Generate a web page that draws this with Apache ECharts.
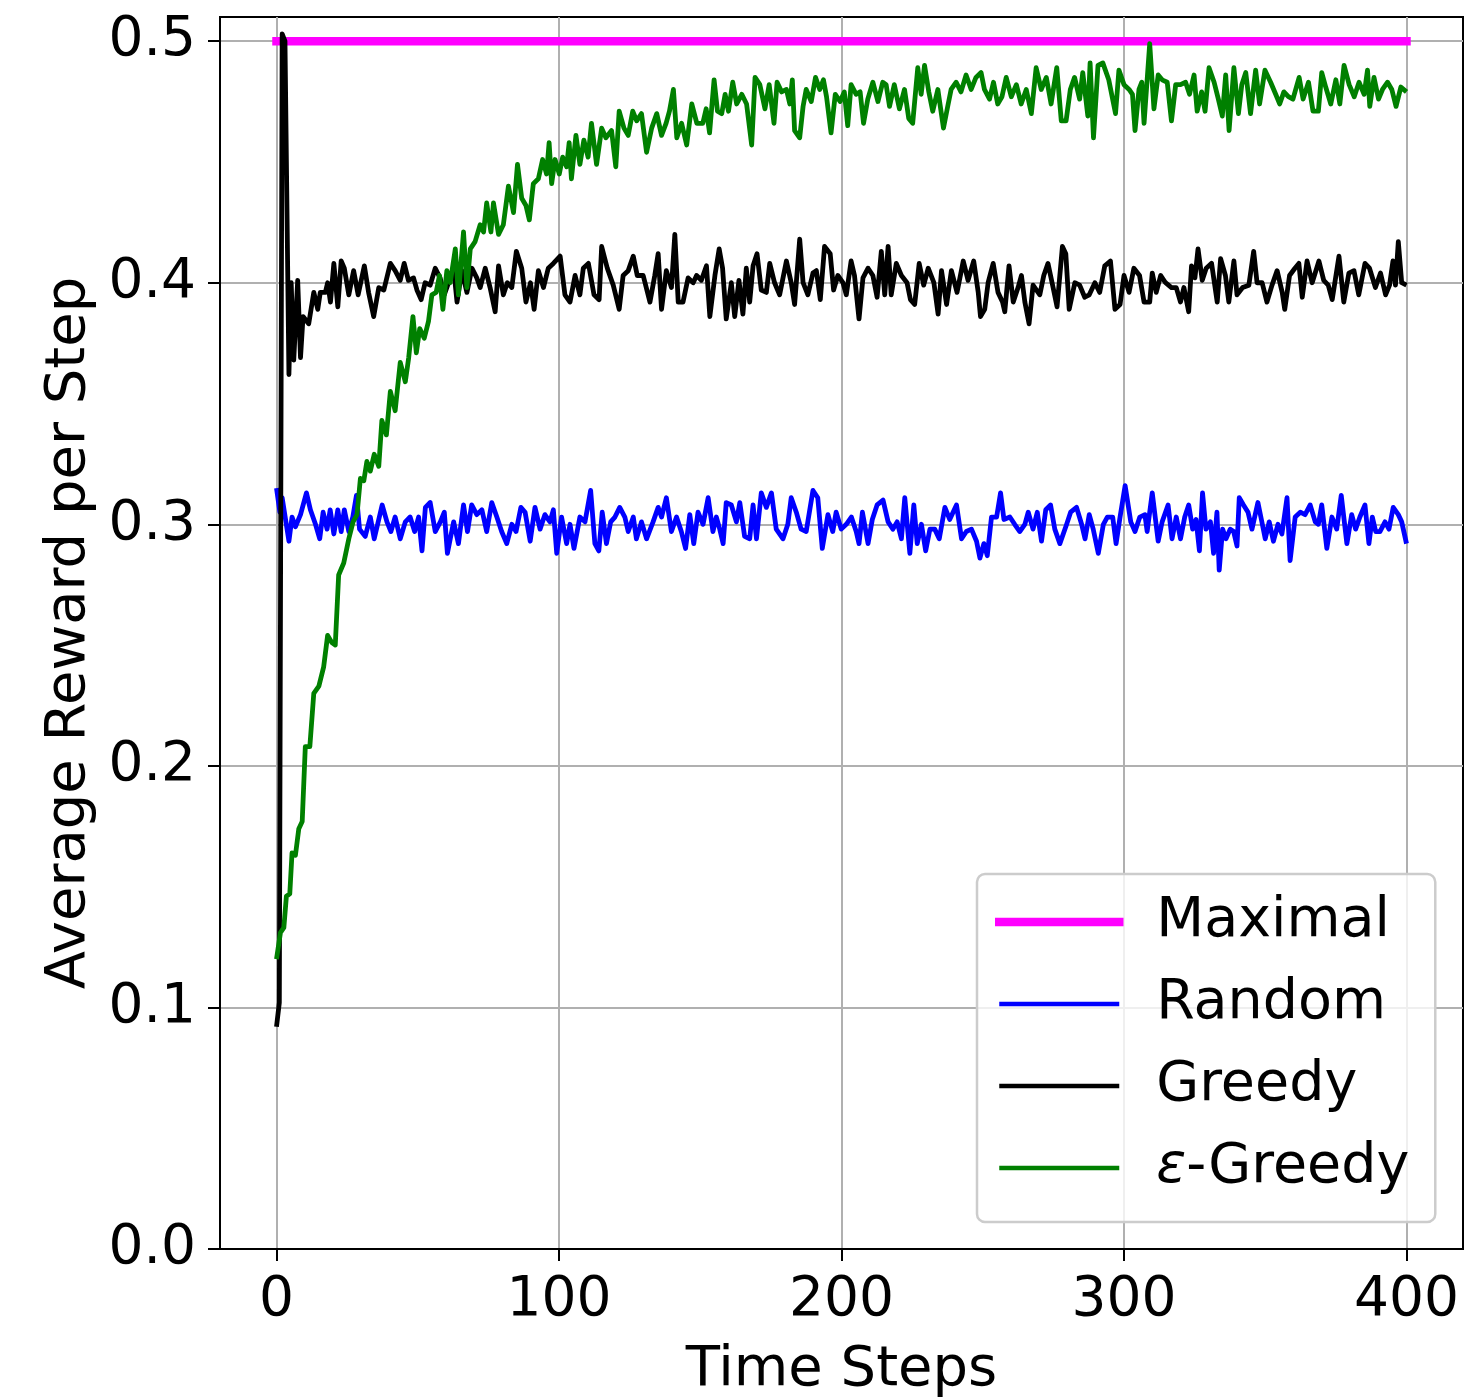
<!DOCTYPE html>
<html>
<head>
<meta charset="utf-8">
<script src="https://cdn.jsdelivr.net/npm/echarts@6/dist/echarts.min.js"></script>
<style>
html, body { margin:0; padding:0; background:#fff; }
#chart { width:1471px; height:1398px; }
</style>
</head>
<body>
<div id="chart"></div>
<script>
// tick positions
const xTicks = [0, 100, 200, 300, 400];
const yTicks = [0, 0.1, 0.2, 0.3, 0.4, 0.5];

// [time step, average reward]
const maximalReward = [[0, 0.5], [400, 0.5]];

const randomReward = [[0,0.315],[1.2,0.305],[2,0.311],[4.4,0.293],[5.5,0.303],[6.7,0.299],[8.5,0.304],[10.6,0.313],[12,0.306],[13.8,0.300],[15.3,0.294],[16.5,0.305],[17.9,0.298],[19,0.306],[20.3,0.296],[21.7,0.306],[22.9,0.297],[24,0.306],[25.6,0.297],[27,0.303],[28.3,0.312],[29.4,0.298],[31.4,0.295],[33.2,0.303],[34.6,0.294],[37.4,0.308],[39.1,0.301],[40.5,0.297],[42,0.303],[43.8,0.294],[45.6,0.301],[47.3,0.303],[48.9,0.297],[50.3,0.303],[51.5,0.289],[52.7,0.307],[54.4,0.309],[56.2,0.297],[58,0.301],[59.4,0.305],[60.5,0.288],[62.7,0.301],[64.4,0.292],[66.2,0.308],[67.6,0.297],[69.1,0.308],[70.9,0.304],[72.7,0.306],[74.4,0.297],[76.2,0.309],[78,0.303],[79.7,0.297],[81.5,0.292],[83.3,0.300],[84.8,0.297],[86.5,0.307],[88,0.305],[89.8,0.293],[91.5,0.307],[93.3,0.298],[95,0.304],[96.8,0.301],[98,0.306],[99.2,0.288],[100.9,0.303],[102.7,0.292],[103.9,0.300],[105.3,0.290],[107.4,0.303],[109.2,0.301],[111.2,0.314],[112.7,0.292],[114.1,0.289],[115.3,0.305],[116.8,0.292],[118.3,0.301],[119.8,0.303],[121.5,0.307],[123.3,0.303],[124.5,0.297],[126.3,0.303],[127.4,0.294],[129.2,0.301],[131,0.294],[133.3,0.301],[135.1,0.307],[136.3,0.303],[138,0.311],[139.8,0.297],[141.6,0.303],[143.3,0.297],[144.8,0.290],[146.3,0.304],[147.7,0.292],[149.2,0.305],[151,0.300],[152.8,0.311],[154.5,0.297],[155.7,0.303],[156.9,0.298],[158.1,0.292],[159.2,0.309],[161,0.308],[162.8,0.301],[164,0.309],[165.7,0.295],[167.5,0.294],[168.7,0.308],[169.9,0.294],[171.6,0.313],[173.4,0.307],[175.2,0.313],[176.9,0.298],[179.3,0.294],[181,0.300],[182.2,0.311],[184,0.305],[185.7,0.298],[187.5,0.297],[189.9,0.314],[191.6,0.311],[193.2,0.290],[195.2,0.304],[196.9,0.297],[198.1,0.305],[199.9,0.298],[201.7,0.300],[203.5,0.303],[205.2,0.297],[206.2,0.292],[207.4,0.305],[209.4,0.292],[210.9,0.302],[212.6,0.308],[214.7,0.310],[216.5,0.301],[218.2,0.298],[219.7,0.301],[221.2,0.294],[222.4,0.311],[224.2,0.288],[225.6,0.308],[226.8,0.292],[228.3,0.300],[229.8,0.289],[231.3,0.298],[233,0.298],[234.6,0.294],[236.6,0.307],[238.3,0.302],[240.7,0.308],[242.5,0.294],[244.2,0.297],[246,0.298],[247.8,0.293],[249,0.286],[250.4,0.292],[251.6,0.287],[253.1,0.303],[254.9,0.303],[256.3,0.313],[257.5,0.302],[259.6,0.303],[261.3,0.300],[263.1,0.297],[264.9,0.300],[266.1,0.305],[267.8,0.298],[269.3,0.305],[270.8,0.293],[272.3,0.306],[274,0.308],[275.5,0.298],[277.3,0.292],[279.7,0.300],[281.1,0.305],[283.2,0.307],[285,0.300],[286.2,0.294],[287.7,0.304],[289.1,0.298],[290.9,0.288],[292.7,0.300],[294.1,0.303],[296,0.303],[297.2,0.292],[298.6,0.303],[300.4,0.316],[302.4,0.301],[303.9,0.297],[305.6,0.303],[307.4,0.304],[308.2,0.297],[310,0.313],[312.1,0.293],[313.5,0.301],[315.6,0.308],[317,0.294],[318.5,0.303],[320,0.294],[321.5,0.303],[322.9,0.308],[324.3,0.298],[325.5,0.302],[326.7,0.289],[327.8,0.313],[329,0.298],[330.6,0.301],[331.7,0.288],[332.9,0.305],[333.7,0.281],[334.9,0.298],[336.1,0.294],[337.6,0.298],[338.8,0.297],[340,0.291],[340.8,0.311],[342.3,0.308],[343.9,0.305],[345.3,0.298],[347.4,0.309],[348.8,0.301],[350,0.294],[351.4,0.301],[352.9,0.293],[354.5,0.300],[355.9,0.296],[357.7,0.311],[358.8,0.285],[360.6,0.303],[362.4,0.305],[364.1,0.304],[365.9,0.308],[367.7,0.301],[368.8,0.300],[370,0.308],[371.8,0.290],[373.6,0.303],[375.3,0.298],[376.9,0.312],[378.9,0.292],[380.6,0.304],[382,0.298],[383.5,0.303],[385.3,0.308],[386.7,0.292],[387.9,0.303],[389.1,0.297],[390.6,0.297],[392.4,0.301],[393.8,0.298],[395.3,0.307],[397.1,0.304],[398.3,0.301],[400,0.292]];

const greedyReward = [[0,0.092],[1,0.102],[2,0.503],[3,0.500],[4.4,0.362],[5.2,0.400],[6.1,0.368],[7.5,0.401],[8.5,0.369],[9.4,0.386],[11.4,0.383],[13.2,0.396],[14.6,0.389],[15.5,0.396],[17.3,0.396],[18.1,0.400],[19.1,0.392],[20.3,0.408],[21.7,0.390],[22.9,0.409],[24,0.406],[25.6,0.395],[27.3,0.405],[28.9,0.395],[31.1,0.407],[32.6,0.396],[34.4,0.386],[36.2,0.398],[38,0.397],[40.3,0.408],[42,0.405],[43.8,0.401],[45.2,0.408],[46.7,0.401],[48.5,0.402],[49.7,0.397],[51.2,0.393],[52.6,0.400],[54.4,0.399],[56.2,0.406],[57.9,0.402],[59.4,0.395],[60.9,0.400],[62.7,0.406],[63.9,0.392],[65.6,0.405],[67.4,0.396],[69.2,0.406],[70.9,0.402],[72.1,0.398],[73.9,0.406],[75.6,0.398],[77.4,0.388],[78.6,0.407],[80.3,0.395],[81.7,0.400],[83.3,0.398],[84.9,0.413],[86.8,0.406],[88.3,0.392],[89.9,0.400],[91.2,0.389],[92.7,0.405],[94.5,0.398],[96.2,0.406],[98,0.408],[100.4,0.411],[102.1,0.395],[103.9,0.392],[105.7,0.403],[107.4,0.395],[108.6,0.406],[110.4,0.408],[112.4,0.395],[114.2,0.393],[115.1,0.415],[117.1,0.406],[119.2,0.399],[121.3,0.389],[122.7,0.403],[124.5,0.405],[126.3,0.411],[127.7,0.403],[129.8,0.403],[132.2,0.392],[133.9,0.403],[135.1,0.412],[136.3,0.389],[138,0.405],[139.8,0.398],[141,0.420],[142.2,0.392],[143.9,0.392],[145.7,0.402],[147.5,0.400],[148.7,0.403],[150.4,0.401],[152.2,0.407],[153.4,0.386],[155.2,0.403],[156.7,0.414],[157.9,0.406],[159.2,0.385],[161,0.400],[162.2,0.386],[163.7,0.401],[165.1,0.387],[166.3,0.406],[167.5,0.392],[168.7,0.407],[170.1,0.412],[171.6,0.397],[173.4,0.396],[174.6,0.408],[176.3,0.400],[178.1,0.395],[180.5,0.409],[182.2,0.400],[183.4,0.391],[185.2,0.418],[186.4,0.400],[188.1,0.395],[189.9,0.404],[191.1,0.405],[192.5,0.393],[194,0.415],[196,0.412],[197.2,0.397],[198.7,0.403],[200.5,0.400],[201.7,0.395],[203.4,0.409],[204.6,0.403],[206.2,0.385],[207.6,0.402],[209.4,0.406],[211.1,0.403],[212.6,0.394],[214.1,0.413],[215.3,0.395],[216.5,0.415],[217.6,0.395],[219.4,0.408],[221.2,0.403],[223.2,0.400],[224.4,0.393],[225.9,0.391],[227.5,0.408],[229.1,0.399],[230.7,0.406],[232.7,0.400],[234.2,0.387],[235.4,0.405],[237.2,0.391],[238.9,0.405],[240.9,0.396],[243.1,0.409],[244.8,0.401],[246.8,0.409],[248.4,0.396],[249.2,0.386],[250.7,0.389],[251.9,0.400],[253.7,0.408],[255.4,0.396],[257,0.392],[257.8,0.388],[259.3,0.407],[260.8,0.392],[262.5,0.398],[263.7,0.403],[264.9,0.392],[266.4,0.383],[267.8,0.399],[270.2,0.395],[271.6,0.403],[273.1,0.408],[274.9,0.398],[276.3,0.390],[278.2,0.415],[279.4,0.412],[280.6,0.389],[282.6,0.400],[284.3,0.399],[286.1,0.394],[287.7,0.395],[289.7,0.400],[291.4,0.396],[293.2,0.407],[295.2,0.409],[296.8,0.389],[298.6,0.391],[300,0.403],[301.8,0.396],[303.5,0.406],[305.5,0.403],[307.1,0.392],[309.1,0.392],[310,0.404],[311.4,0.396],[313,0.403],[314.7,0.400],[316.8,0.398],[318.5,0.398],[320,0.392],[321.2,0.398],[322.9,0.388],[323.9,0.407],[325.1,0.402],[326.2,0.414],[327.7,0.401],[329.1,0.406],[331,0.408],[333,0.392],[334.2,0.410],[335.9,0.403],[337.1,0.392],[338.9,0.409],[340,0.395],[342,0.398],[344.2,0.399],[345.9,0.413],[347.1,0.400],[348.9,0.400],[350.6,0.392],[352.4,0.399],[354.2,0.405],[356,0.396],[356.9,0.389],[358.6,0.403],[360.5,0.406],[361.9,0.408],[363.1,0.394],[364.8,0.409],[366.6,0.400],[369,0.409],[370.7,0.401],[372.3,0.399],[373.7,0.393],[376.1,0.411],[377.8,0.392],[379.6,0.404],[381.4,0.405],[383.1,0.395],[385.3,0.408],[386.9,0.406],[389,0.398],[390.8,0.404],[392.6,0.395],[394,0.399],[395.2,0.409],[396.1,0.399],[397.1,0.417],[398.3,0.400],[400,0.399]];

const epsGreedyReward = [[0,0.120],[1.4,0.131],[2.6,0.133],[3.5,0.146],[4.7,0.147],[5.5,0.164],[6.7,0.163],[7.9,0.174],[9.1,0.177],[10.2,0.208],[11.8,0.208],[13.2,0.230],[15,0.233],[16.7,0.241],[18.1,0.254],[19.6,0.251],[20.8,0.250],[22,0.279],[23.8,0.284],[25.6,0.294],[27.1,0.301],[28.5,0.304],[29.7,0.319],[30.9,0.318],[32,0.326],[33.2,0.322],[34.6,0.329],[36.2,0.324],[37.3,0.343],[38.9,0.337],[40.3,0.355],[42,0.347],[43.8,0.367],[45.6,0.359],[46.8,0.369],[48.3,0.386],[49.5,0.371],[50.7,0.381],[52.3,0.377],[53.8,0.384],[55,0.395],[56.5,0.396],[57.7,0.403],[58.9,0.389],[60.3,0.405],[61.5,0.400],[63.3,0.414],[64.4,0.395],[66.2,0.421],[67.4,0.398],[68.6,0.414],[70.3,0.417],[72.1,0.424],[73.3,0.421],[74.4,0.433],[75.9,0.421],[76.8,0.433],[78.6,0.420],[80.3,0.424],[82.1,0.440],[83.9,0.429],[85.3,0.449],[86.8,0.435],[88.3,0.432],[89.5,0.426],[90.9,0.441],[92.7,0.443],[94.2,0.451],[95.6,0.445],[96.5,0.458],[97.4,0.441],[98.6,0.451],[100.1,0.445],[101.3,0.452],[102.7,0.448],[103.6,0.458],[104.4,0.443],[106,0.461],[107.4,0.449],[108.8,0.459],[110.3,0.452],[111.5,0.466],[113.3,0.449],[115.1,0.464],[116.6,0.460],[118.6,0.463],[120.1,0.448],[121.3,0.471],[123,0.464],[124.5,0.461],[126.1,0.471],[127.5,0.467],[129.2,0.470],[131,0.454],[132.8,0.464],[134.6,0.470],[136.3,0.461],[137.9,0.466],[139.1,0.471],[140.5,0.480],[141.7,0.460],[143.4,0.466],[145.2,0.457],[147,0.474],[148.8,0.466],[150.9,0.466],[152.1,0.472],[153.3,0.462],[154.9,0.484],[156.1,0.471],[157.6,0.470],[158.8,0.478],[160,0.471],[161.5,0.483],[162.9,0.474],[164.7,0.478],[166.4,0.474],[168.2,0.457],[169.4,0.485],[171.1,0.482],[172.9,0.472],[174.4,0.482],[176.1,0.466],[177.2,0.483],[178.8,0.479],[180.5,0.480],[181.7,0.474],[182.6,0.484],[183.4,0.463],[185.2,0.460],[186.4,0.473],[187.5,0.480],[189.3,0.475],[190.8,0.485],[192.3,0.480],[193.6,0.484],[194.7,0.477],[196.3,0.462],[197.8,0.478],[199.5,0.475],[201,0.479],[202.2,0.465],[203.4,0.482],[205.2,0.478],[206.6,0.479],[207.8,0.466],[209.3,0.476],[211.1,0.483],[212.9,0.475],[214.6,0.483],[215.8,0.482],[217,0.473],[218.7,0.482],[220.5,0.472],[222.3,0.480],[223.8,0.468],[225.2,0.466],[227,0.489],[228.2,0.478],[229.4,0.490],[230.9,0.479],[232.3,0.471],[234.1,0.480],[236.1,0.464],[237.6,0.473],[238.8,0.480],[240.6,0.483],[242.3,0.479],[244.1,0.486],[245.9,0.480],[247.6,0.485],[249.4,0.487],[250.6,0.480],[252.4,0.476],[253.8,0.483],[255.3,0.474],[256.8,0.477],[258.3,0.485],[260.1,0.477],[261.9,0.482],[263.6,0.474],[265.4,0.480],[267.2,0.470],[268.9,0.489],[270.7,0.480],[272.5,0.485],[274.2,0.474],[276.2,0.489],[277.8,0.467],[279.5,0.467],[281,0.480],[282.5,0.485],[284.3,0.476],[285.4,0.487],[287.2,0.469],[288,0.491],[289.2,0.460],[290.8,0.490],[292.5,0.491],[294.6,0.484],[297,0.470],[298.2,0.488],[300,0.482],[301.8,0.480],[303,0.478],[303.9,0.463],[305.3,0.480],[306.3,0.483],[307.1,0.466],[309.1,0.499],[310.6,0.472],[312.1,0.486],[313.5,0.484],[315.3,0.483],[316.8,0.467],[318.3,0.482],[320,0.482],[321.8,0.483],[323.2,0.478],[324.8,0.486],[325.9,0.471],[327.5,0.479],[328.7,0.471],[330.1,0.489],[331.9,0.483],[333.4,0.476],[334.8,0.469],[336,0.486],[337.2,0.463],[338.9,0.489],[340.5,0.470],[341.7,0.482],[343.1,0.487],[344.8,0.470],[346.6,0.488],[348,0.474],[349.9,0.488],[351.9,0.483],[353.7,0.478],[355.1,0.474],[356.6,0.479],[358.2,0.477],[359.8,0.476],[362,0.485],[363.4,0.476],[365.3,0.483],[366.9,0.471],[368.8,0.471],[370,0.487],[371.4,0.481],[373.2,0.474],[375,0.484],[376.4,0.474],[377.9,0.490],[379.7,0.482],[381.5,0.477],[383.2,0.483],[385,0.478],[386.2,0.488],[387,0.473],[388.5,0.485],[390.1,0.476],[391.5,0.480],[393.3,0.483],[394.8,0.480],[396.3,0.473],[398,0.481],[400,0.479]];

const FONT = 'DejaVu Sans';
// hide the dot ECharts puts in the middle of a line legend icon
const noDot = {color: 'transparent', borderWidth: 0, opacity: 0};

const chart = echarts.init(document.getElementById('chart'));
chart.setOption({
    animation: false,
    backgroundColor: '#fff',
    grid: {
        left: 220, right: 8, top: 17, bottom: 149,
        outerBoundsMode: 'none',
        show: true, borderColor: '#000', borderWidth: 2, backgroundColor: 'transparent'
    },
    legend: {
        left: 977, top: 874,
        orient: 'vertical',
        itemWidth: 120, itemHeight: 20, itemGap: 20,
        padding: [17, 26, 23, 18],
        backgroundColor: 'rgba(255,255,255,0.8)',
        borderColor: '#cccccc', borderWidth: 2.5, borderRadius: 8,
        selectedMode: false,
        itemStyle: noDot,
        data: [
            {name: 'Maximal', lineStyle: {width: 8.5}, itemStyle: noDot},
            {name: 'Random', lineStyle: {width: 4.5}, itemStyle: noDot},
            {name: 'Greedy', lineStyle: {width: 4.5}, itemStyle: noDot},
            {name: 'ε-Greedy', lineStyle: {width: 4.5}, itemStyle: noDot}
        ],
        formatter: function (name) {
            return name === 'ε-Greedy' ? '{e|ε}-Greedy' : name;
        },
        textStyle: {
            fontFamily: FONT, fontSize: 55.5, color: '#000', lineHeight: 62,
            padding: [0, 0, 0, 32],
            rich: { e: {fontFamily: FONT, fontSize: 55.5, fontStyle: 'italic', color: '#000'} }
        }
    },
    xAxis: {
        type: 'value', min: -20, max: 420,
        name: 'Time Steps', nameLocation: 'middle', nameGap: 93,
        nameTextStyle: {fontFamily: FONT, fontSize: 56, color: '#000'},
        axisLine: {onZero: false, lineStyle: {color: '#000', width: 2}},
        axisTick: {inside: false, length: 12, customValues: xTicks, lineStyle: {color: '#000', width: 2}},
        axisLabel: {customValues: xTicks, margin: 24, fontFamily: FONT, fontSize: 55, color: '#000'},
        splitLine: {show: true, lineStyle: {color: '#b0b0b0', width: 2}}
    },
    yAxis: {
        type: 'value', min: 0, max: 0.51,
        name: 'Average Reward per Step', nameLocation: 'middle', nameGap: 122,
        nameTextStyle: {fontFamily: FONT, fontSize: 56, color: '#000'},
        axisLine: {onZero: false, lineStyle: {color: '#000', width: 2}},
        axisTick: {inside: false, length: 12, customValues: yTicks, lineStyle: {color: '#000', width: 2}},
        axisLabel: {
            customValues: yTicks, margin: 24, fontFamily: FONT, fontSize: 55, color: '#000',
            formatter: function (v) { return v.toFixed(1); }
        },
        splitLine: {show: true, lineStyle: {color: '#b0b0b0', width: 2}}
    },
    series: [
        {
            name: 'Maximal', type: 'line', data: maximalReward, symbol: 'none',
            lineStyle: {color: '#ff00ff', width: 8.5, cap: 'square'}, itemStyle: {color: '#ff00ff'}
        },
        {
            name: 'Random', type: 'line', data: randomReward, symbol: 'none',
            lineStyle: {color: '#0000ff', width: 4.8, join: 'round'}, itemStyle: {color: '#0000ff'}
        },
        {
            name: 'Greedy', type: 'line', data: greedyReward, symbol: 'none',
            lineStyle: {color: '#000000', width: 4.8, join: 'round'}, itemStyle: {color: '#000000'}
        },
        {
            name: 'ε-Greedy', type: 'line', data: epsGreedyReward, symbol: 'none',
            lineStyle: {color: '#008000', width: 4.8, join: 'round'}, itemStyle: {color: '#008000'}
        }
    ]
});
</script>
</body>
</html>
